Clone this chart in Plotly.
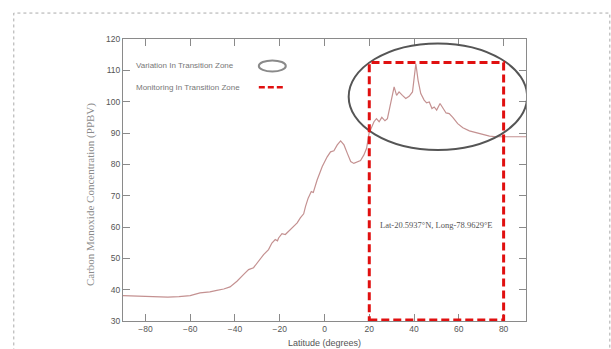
import plotly.graph_objects as go

# Data
latitude = [-90, -85, -80, -75, -70, -65, -60, -55.6, -51.2, -48.1, -45, -42.2, -39.1, -36.2, -33.9,
            -31.7, -29.5, -27.2, -25.0, -23.5, -22.0, -21.0, -20.5, -19.0, -17.5, -15.2, -12.2,
            -10.8, -9.3, -8.5, -7.3, -5.9, -5.0, -3.3, -1.0, 1.2, 2.7, 4.2, 5.7, 7.2, 8.7, 10.2,
            11.7, 13.1, 14.7, 16.1, 17.6, 18.8, 19.9, 21.1, 22.1, 23.2, 24.4, 25.6, 27.0, 28.1,
            29.6, 31.1, 32.2, 33.3, 34.8, 36.3, 37.8, 39.3, 40.1, 40.8, 41.8, 43.0, 44.5, 45.6,
            46.8, 48.0, 49.0, 50.1, 51.6, 53.1, 54.3, 55.7, 57.3, 59.5, 61.8, 64.7, 67.7, 70.7,
            73.7, 76.7, 80.4, 85, 90]
co_ppbv = [38.1, 38.0, 37.9, 37.8, 37.6, 37.8, 38.1, 39.0, 39.3, 39.8, 40.2, 40.9, 42.7, 44.8, 46.4,
           47.0, 49.1, 51.2, 52.8, 54.9, 56.0, 55.6, 56.5, 57.9, 57.6, 59.1, 61.3,
           62.9, 64.2, 66.5, 69.2, 71.3, 71.0, 75.0, 79.3, 82.4, 84.0, 84.3, 86.2, 87.5, 86.2, 83.5,
           80.9, 80.3, 80.9, 81.2, 83.0, 85.1, 89.9, 91.8, 93.6, 94.6, 93.6, 95.0, 93.9, 94.6,
           99.4, 104.7, 102.0, 103.1, 102.0, 101.0, 101.7, 103.1, 107.9, 112.1, 106.8, 102.6, 100.5, 99.6,
           99.9, 97.8, 98.3, 97.3, 99.4, 97.8, 96.4, 96.2, 95.0, 93.0, 91.7, 90.7, 90.1, 89.7,
           89.0, 88.8, 88.8, 88.8, 88.8]

x_ticks = [-80, -60, -40, -20, 0, 20, 40, 60, 80]
y_ticks = [30, 40, 50, 60, 70, 80, 90, 100, 110, 120]

zone_lat = [20, 80]
zone_co = [30.3, 112.5]
ellipse_lat = [10.8, 90.5]
ellipse_co = [84.6, 118.6]
site_label = "Lat-20.5937°N, Long-78.9629°E"
site_pos = [50, 60.5]

legend_labels = ["Variation In Transition Zone", "Monitoring In Transition Zone"]

fig = go.Figure()
fig.add_trace(go.Scatter(x=latitude, y=co_ppbv, mode="lines",
                         line=dict(color="#c49191", width=1.2), showlegend=False,
                         hoverinfo="x+y"))

axis_common = dict(showgrid=False, zeroline=False, showline=True, linecolor="#8a8a8a",
                   linewidth=1, mirror="ticks", ticks="inside", ticklen=7,
                   tickcolor="#8a8a8a", tickwidth=1, automargin=False,
                   tickfont=dict(family="Liberation Sans", size=8.5, color="#555555"))

fig.update_xaxes(range=[-90, 90], tickvals=x_ticks, **axis_common)
fig.update_yaxes(range=[30, 120], tickvals=y_ticks, **axis_common)

red = "#e01010"
shapes = [
    # outer dotted frame
    dict(type="rect", xref="paper", yref="paper", x0=-0.271, x1=1.208, y0=-0.3, y1=1.092,
         line=dict(color="#aaaaaa", width=1, dash="dot"), layer="below"),
    # big ellipse
    dict(type="circle", xref="x", yref="y", x0=ellipse_lat[0], x1=ellipse_lat[1],
         y0=ellipse_co[0], y1=ellipse_co[1], line=dict(color="#555555", width=2)),
    # red dashed rectangle
    dict(type="rect", xref="x", yref="y", x0=zone_lat[0], x1=zone_lat[1],
         y0=zone_co[0], y1=zone_co[1], line=dict(color=red, width=3, dash="8px,4px")),
    # legend ellipse symbol
    dict(type="circle", xref="paper", yref="paper", x0=0.337, x1=0.404, y0=0.885, y1=0.924,
         line=dict(color="#8a8a8a", width=2)),
    # legend dashed line
    dict(type="line", xref="paper", yref="paper", x0=0.337, x1=0.404, y0=0.829, y1=0.829,
         line=dict(color=red, width=2.5, dash="6px,3px")),
]

annotations = [
    dict(text=legend_labels[0], xref="paper", yref="paper", x=0.027, y=0.906,
         xanchor="left", yanchor="middle", showarrow=False,
         font=dict(family="Liberation Sans", size=8, color="#777777")),
    dict(text=legend_labels[1], xref="paper", yref="paper", x=0.027, y=0.829,
         xanchor="left", yanchor="middle", showarrow=False,
         font=dict(family="Liberation Sans", size=8, color="#777777")),
    dict(text=site_label, xref="x", yref="y", x=site_pos[0], y=site_pos[1],
         xanchor="center", yanchor="middle", showarrow=False,
         font=dict(family="Liberation Serif", size=8.5, color="#555555")),
    dict(text="Carbon Monoxide Concentration (PPBV)", xref="paper", yref="paper",
         x=-0.082, y=0.45, textangle=-90, xanchor="center", yanchor="middle",
         showarrow=False, font=dict(family="Liberation Serif", size=11, color="#8a8a8a")),
    dict(text="Latitude (degrees)", xref="paper", yref="paper",
         x=0.5, y=-0.0795, xanchor="center", yanchor="middle",
         showarrow=False, font=dict(family="Liberation Sans", size=9, color="#555555")),
]

fig.update_layout(width=611, height=349, margin=dict(l=123, r=85, t=38.5, b=27.5),
                  paper_bgcolor="white", plot_bgcolor="white",
                  shapes=shapes, annotations=annotations, showlegend=False)

fig.write_html("out.html")
